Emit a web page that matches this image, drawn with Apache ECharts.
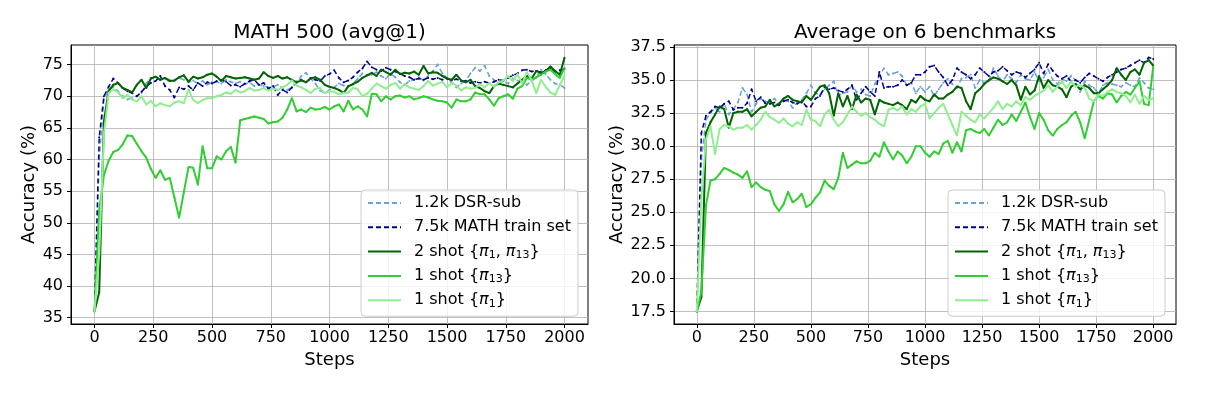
<!DOCTYPE html>
<html>
<head>
<meta charset="utf-8">
<script src="https://cdn.jsdelivr.net/npm/echarts@6/dist/echarts.min.js"></script>
<style>html,body{margin:0;padding:0;background:#fff}#c{width:1212px;height:394px}</style>
</head>
<body>
<div id="c"></div>
<script>
const steps = [0,20,40,60,80,100,120,140,160,180,200,220,240,260,280,300,320,340,360,380,
400,420,440,460,480,500,520,540,560,580,600,620,640,660,680,700,720,740,760,780,
800,820,840,860,880,900,920,940,960,980,1000,1020,1040,1060,1080,1100,1120,1140,1160,1180,
1200,1220,1240,1260,1280,1300,1320,1340,1360,1380,1400,1420,1440,1460,1480,1500,1520,1540,1560,1580,
1600,1620,1640,1660,1680,1700,1720,1740,1760,1780,1800,1820,1840,1860,1880,1900,1920,1940,1960,1980,2000];

const seriesNames = ['1.2k DSR-sub', '7.5k MATH train set', '2 shot {π1, π13}', '1 shot {π13}', '1 shot {π1}'];

const xTicks = [0, 250, 500, 750, 1000, 1250, 1500, 1750, 2000];
const yTicksMath = [35, 40, 45, 50, 55, 60, 65, 70, 75];
const yTicksAvg = [17.5, 20, 22.5, 25, 27.5, 30, 32.5, 35, 37.5];

// ---- MATH 500 (avg@1) ----
const math_dsr = [36,60,69.5,71.0,71.5,70.8,70.0,69.5,69.7,70.0,
70.5,72.0,72.9,73.0,72.6,72.8,72.6,72.4,72.9,72.6,
72.2,72.5,72.0,72.4,71.8,72.2,72.3,72.0,72.6,72.3,
72.0,72.3,71.9,72.2,71.6,71.8,71.6,71.4,71.5,71.8,
71.2,71.0,71.4,72.1,73.2,73.7,72.8,72.0,70.9,70.5,
71.0,71.4,72.0,71.7,71.5,72.0,72.8,73.6,73.3,73.4,
73.8,73.2,72.8,73.6,73.0,72.2,71.8,72.4,72.6,73.0,
72.5,73.2,74.0,75.0,73.6,72.9,72.1,71.4,72.0,72.5,
73.6,74.5,74.0,74.8,73.2,72.6,72.0,72.4,72.0,72.8,
72.5,72.3,71.8,72.4,73.0,74.2,73.5,72.6,72.0,71.8,
71.3];
const math_math = [36,63.5,70,71.5,72.8,72.1,71.3,70.8,70.5,70.0,
70.7,71.5,72.1,72.4,73.2,71.6,71.0,69.8,71.4,71.1,
71.6,71.0,72.1,71.6,72.2,72.0,72.4,72.6,72.3,71.7,
71.8,71.5,72.0,72.4,72.6,71.8,72.1,71.2,71.6,70.2,
71.0,70.6,71.4,72.3,72.6,72.2,72.9,72.6,72.4,73.2,
73.5,74.1,72.9,72.2,72.5,73.0,73.8,74.4,75.5,74.6,
74.2,74.0,74.5,74.2,73.9,73.6,73.2,73.0,72.6,72.8,
72.6,72.9,72.7,72.9,72.6,72.8,72.5,72.7,72.4,72.4,
72.1,72.3,72.1,72.3,72.1,72.3,72.6,72.5,72.9,73.3,
73.6,74.1,74.2,73.9,74.0,73.8,74.1,74.3,73.9,74.1,
74.3];
const math_2shot = [36,39,66,70.8,71.8,72.1,71.3,71.0,70.6,71.8,
72.6,71.3,72.8,73.1,72.6,72.9,72.4,72.5,73.0,73.3,
72.3,73.1,72.8,73.0,73.4,73.6,73.1,72.4,73.2,73.0,
72.8,72.9,73.0,72.8,72.6,72.8,73.8,73.2,72.9,73.2,
72.8,73.0,72.6,72.2,72.5,72.2,72.8,73.0,72.6,71.8,
71.5,71.3,71.0,70.5,71.6,71.9,72.3,72.9,73.3,73.7,
73.2,74.2,73.8,73.4,74.2,73.5,73.7,73.6,73.9,73.4,
74.8,73.6,73.8,73.7,73.2,72.8,72.6,73.4,72.5,72.2,
72.6,71.6,71.3,70.8,70.5,71.6,72.0,71.8,71.6,71.4,
72.0,72.6,73.2,72.8,74.0,73.6,74.0,74.7,74.0,73.4,
76.1];
const math_pi13 = [36,52,57.5,59.8,61.2,61.5,62.4,63.8,63.7,62.5,
61.3,60.3,58.5,57.1,58.3,56.8,57.1,54.0,50.8,54.8,
58.8,58.7,56.0,62.1,58.6,58.6,60.5,60.0,61.3,62.0,
59.5,66.2,66.4,66.6,66.8,66.6,66.4,65.7,65.9,66.0,
66.6,67.9,69.7,67.6,67.9,67.5,68.2,67.9,68.0,68.3,
67.9,68.4,68.7,67.6,69.3,67.9,68.4,67.9,66.8,70.4,
70.3,69.2,70.0,69.5,70.0,70.1,69.8,70.0,69.5,69.7,
70.0,69.8,69.5,69.3,69.2,69.0,68.2,69.5,69.2,69.2,
69.5,70.6,70.3,70.3,69.5,68.5,69.7,70.0,70.3,69.6,
71.2,71.6,72.9,72.6,73.0,73.4,73.9,74.2,73.5,72.9,
74.5];
const math_pi1 = [36,45,64,70.5,71.1,70.6,69.7,70.2,69.5,69.2,
70.0,68.7,69.3,68.4,68.9,68.6,68.4,69.0,69.2,68.9,
71.1,69.4,68.9,69.4,69.7,69.7,70.0,70.2,70.6,70.4,
71.0,70.6,70.8,71.3,70.9,71.0,71.3,70.9,71.2,71.0,
71.4,71.8,72.5,71.7,71.4,71.0,70.5,71.2,71.3,70.5,
70.8,70.7,70.3,70.5,70.6,71.3,71.1,70.0,70.4,71.2,
72.0,71.6,71.2,71.8,72.1,71.2,71.9,71.4,71.2,71.0,
71.6,72.4,71.7,72.0,72.3,71.4,72.1,71.7,70.9,71.4,
71.2,71.3,71.9,71.4,72.1,71.5,72.2,72.5,73.2,72.4,
73.5,72.0,73.8,72.6,70.5,72.6,71.5,70.6,70.2,71.8,
73.2];

// ---- Average on 6 benchmarks ----
const avg_dsr = [17.5,29.0,32.0,32.5,32.9,32.6,33.2,32.4,32.8,33.3,
34.4,33.9,32.6,33.2,33.6,33.4,33.3,33.6,33.2,33.5,
33.4,32.9,33.3,33.5,34.0,34.6,34.0,33.9,34.3,34.6,
34.9,33.8,34.0,34.1,34.6,34.1,34.3,33.9,33.8,34.7,
35.3,35.9,35.4,35.5,35.6,35.3,34.6,34.8,34.0,34.5,
34.1,34.5,33.8,34.3,34.8,35.1,34.7,34.4,35.1,35.2,
35.4,34.4,35.0,34.8,34.9,35.9,35.3,34.9,35.4,35.1,
34.8,35.4,35.1,35.0,35.6,34.9,35.2,35.8,35.0,34.7,
35.1,34.9,35.3,35.0,34.1,34.9,34.6,34.4,34.0,34.6,
34.8,34.7,34.6,34.5,34.8,34.6,34.5,35.15,34.8,34.4,
34.3];
const avg_math = [17.5,31.0,32.3,32.6,33.0,32.9,33.2,33.4,32.75,32.9,
32.9,33.25,34.3,33.4,33.7,33.25,33.2,33.3,33.1,33.4,
33.5,33.3,33.2,33.4,33.0,33.0,33.6,33.8,34.5,34.3,
34.4,34.2,34.1,34.3,34.6,33.5,34.0,34.5,34.1,33.8,
35.6,34.4,34.5,34.5,34.6,35.0,34.6,34.8,35.4,35.4,
35.6,36.0,36.1,35.6,35.2,34.6,35.0,35.9,35.6,35.4,
35.1,35.4,35.9,35.6,35.3,35.6,35.7,36.0,35.7,35.4,
35.6,35.5,35.2,35.5,35.8,36.3,35.5,36.2,35.7,35.3,
35.1,35.3,34.9,35.0,34.8,35.2,35.5,35.3,35.1,34.9,
35.2,35.4,35.6,35.8,35.9,36.1,36.3,36.5,36.3,36.7,
36.6];
const avg_2shot = [17.5,18.6,31.0,31.8,32.4,33.0,32.8,31.4,32.5,32.6,
32.6,32.8,32.25,32.6,32.9,33.0,33.5,33.0,33.2,33.6,
33.8,33.5,33.4,33.3,33.8,33.5,34.0,34.5,34.6,34.0,
32.3,34.0,33.0,33.8,32.8,33.9,33.3,33.6,33.5,32.4,
33.5,33.3,33.2,33.1,33.3,33.1,32.8,33.5,33.3,33.8,
33.5,33.4,33.9,33.6,33.6,33.9,34.1,34.5,34.4,33.4,
32.8,34.0,34.3,34.7,35.0,35.2,35.1,34.9,34.7,35.0,
34.6,33.5,34.5,33.9,34.2,35.3,34.4,35.0,34.6,34.5,
34.3,33.7,34.5,34.7,34.3,34.6,34.4,34.0,34.0,34.3,
34.6,35.0,35.9,35.4,35.0,35.6,35.8,35.4,36.3,36.5,
36.1];
const avg_pi13 = [17.5,19.0,25.5,27.4,27.5,27.9,28.35,28.2,28.0,27.85,
27.6,28.1,26.9,27.25,26.9,26.7,26.6,25.6,25.1,25.6,
26.55,25.75,26.0,26.4,25.4,25.6,26.1,26.5,27.4,27.0,
26.75,27.6,29.5,28.35,28.6,28.85,28.7,28.7,28.9,29.5,
29.2,30.3,29.6,29.0,29.6,29.3,28.7,29.2,30.0,30.0,
29.5,29.2,29.6,29.4,30.2,30.4,29.5,30.3,29.6,31.2,
31.3,31.1,31.0,31.3,30.8,31.4,32.0,31.6,31.8,32.4,
31.9,32.6,33.3,32.2,31.3,32.5,32.0,31.2,30.8,31.3,
31.6,31.8,32.3,32.6,31.8,30.6,32.0,33.4,33.8,33.6,
34.0,33.9,33.3,33.8,34.1,33.9,34.4,34.9,33.2,33.1,
36.0];
const avg_pi1 = [17.5,26.0,30.5,31.5,29.4,31.3,31.6,31.5,31.25,31.4,
31.4,31.6,31.25,31.6,32.0,32.6,32.2,32.0,31.75,32.1,
31.7,31.5,31.8,31.6,32.75,32.0,31.9,31.5,32.4,32.75,
32.0,31.5,31.8,32.4,33.0,32.6,32.3,32.5,32.2,32.0,
31.7,31.5,32.75,32.9,32.7,33.0,32.4,32.8,32.6,33.0,
33.2,32.1,32.5,32.9,33.2,32.4,31.6,30.8,32.6,32.3,
32.0,31.8,32.4,32.1,32.5,32.9,33.4,32.8,33.2,33.0,
33.4,33.1,33.7,33.5,33.8,34.0,34.2,34.6,34.1,34.5,
34.9,34.4,34.9,34.5,34.6,34.4,33.6,33.4,33.9,33.8,
34.1,34.3,34.1,34.0,33.8,33.3,33.9,33.2,33.8,33.5,
33.6];

const FONT = 'DejaVu Sans';
const colors = ['#6a9fd8', '#00008b', '#006400', '#32cd32', '#90ee90'];
const dashed = [true, true, false, false, false];
const widths = [1.5, 1.5, 2, 2, 2];

const legendRich = {
  '1.2k DSR-sub': '1.2k DSR-sub',
  '7.5k MATH train set': '7.5k MATH train set',
  '2 shot {π1, π13}': '2 shot {{pi|π}{sub|1}, {pi|π}{sub|13}}',
  '1 shot {π13}': '1 shot {{pi|π}{sub|13}}',
  '1 shot {π1}': '1 shot {{pi|π}{sub|1}}'
};

function pairs(vals) { return steps.map((s, i) => [s, vals[i]]); }

function makeSeries(gridIdx, sets) {
  return sets.map((vals, k) => ({
    type: 'line',
    name: seriesNames[k],
    xAxisIndex: gridIdx,
    yAxisIndex: gridIdx,
    data: pairs(vals),
    symbol: 'circle',
    symbolSize: 2,
    showSymbol: true,
    showAllSymbol: true,
    lineStyle: { color: colors[k], width: widths[k], type: dashed[k] ? [5, 3] : 'solid' },
    itemStyle: { color: colors[k] },
    emphasis: { disabled: true },
    animation: false,
    z: 2 + k
  }));
}

function xAxis(gridIdx) {
  return {
    type: 'value', gridIndex: gridIdx, min: -100, max: 2100,
    name: 'Steps', nameLocation: 'middle', nameGap: 25,
    nameTextStyle: { fontFamily: FONT, fontSize: 18, color: '#000' },
    axisLine: { show: true, onZero: false, lineStyle: { color: '#000', width: 1 } },
    axisTick: { show: true, length: 4, customValues: xTicks, lineStyle: { color: '#000' } },
    axisLabel: { customValues: xTicks, fontFamily: FONT, fontSize: 16, color: '#000', margin: 6, formatter: v => String(v) },
    splitLine: { show: true, lineStyle: { color: '#b0b0b0', width: 0.8 } }
  };
}

function yAxis(gridIdx, min, max, ticks, gap, fmt) {
  return {
    type: 'value', gridIndex: gridIdx, min: min, max: max,
    name: 'Accuracy (%)', nameLocation: 'middle', nameGap: gap,
    nameTextStyle: { fontFamily: FONT, fontSize: 18, color: '#000' },
    axisLine: { show: true, onZero: false, lineStyle: { color: '#000', width: 1 } },
    axisTick: { show: true, length: 4, customValues: ticks, lineStyle: { color: '#000' } },
    axisLabel: { customValues: ticks, fontFamily: FONT, fontSize: 16, color: '#000', margin: 8, formatter: fmt },
    splitLine: { show: true, lineStyle: { color: '#b0b0b0', width: 0.8 } }
  };
}

function legend(left) {
  return {
    data: seriesNames,
    orient: 'vertical',
    left: left, top: 190,
    itemWidth: 33, itemHeight: 14, itemGap: 6.3,
    padding: [4, 7, 7, 6],
    backgroundColor: 'rgba(255,255,255,0.8)',
    borderColor: '#cccccc', borderWidth: 1, borderRadius: 4,
    selectedMode: false,
    itemStyle: { color: 'rgba(0,0,0,0)', borderWidth: 0 },
    formatter: name => legendRich[name],
    textStyle: {
      fontFamily: FONT, fontSize: 16, color: '#000', lineHeight: 18, padding: [0, 0, 0, 8],
      rich: {
        pi: { fontFamily: FONT, fontSize: 16, fontStyle: 'italic', color: '#000', lineHeight: 18 },
        sub: { fontFamily: FONT, fontSize: 11, color: '#000', lineHeight: 12, verticalAlign: 'bottom' }
      }
    }
  };
}

const chart = echarts.init(document.getElementById('c'), null, { renderer: 'canvas' });
chart.setOption({
  backgroundColor: '#fff',
  animation: false,
  textStyle: { fontFamily: FONT },
  graphic: [
    { type: 'text', x: 329.5, y: 32.5, style: { text: 'MATH 500 (avg@1)', align: 'center', verticalAlign: 'middle', fontFamily: FONT, fontSize: 20, fill: '#000' } },
    { type: 'text', x: 925, y: 32.5, style: { text: 'Average on 6 benchmarks', align: 'center', verticalAlign: 'middle', fontFamily: FONT, fontSize: 20, fill: '#000' } }
  ],
  grid: [
    { left: 71, top: 45, width: 517, height: 279, show: true, borderColor: '#000', borderWidth: 1, backgroundColor: 'transparent' },
    { left: 674, top: 45, width: 502, height: 279, show: true, borderColor: '#000', borderWidth: 1, backgroundColor: 'transparent' }
  ],
  xAxis: [xAxis(0), xAxis(1)],
  yAxis: [
    yAxis(0, 34, 78.1, yTicksMath, 32, v => String(v)),
    yAxis(1, 16.55, 37.65, yTicksAvg, 46, v => Number(v).toFixed(1))
  ],
  legend: [legend(361), legend(948)],
  series: makeSeries(0, [math_dsr, math_math, math_2shot, math_pi13, math_pi1])
    .concat(makeSeries(1, [avg_dsr, avg_math, avg_2shot, avg_pi13, avg_pi1]))
});
</script>
</body>
</html>
